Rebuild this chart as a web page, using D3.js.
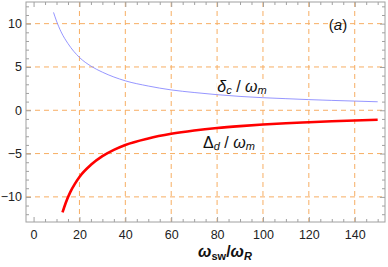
<!DOCTYPE html>
<html>
<head>
<meta charset="utf-8">
<script src="https://cdn.jsdelivr.net/npm/d3@7"></script>
<style>
  body { margin: 0; background: #fff; }
  text { font-family: "Liberation Sans", Arial, sans-serif; }
</style>
</head>
<body>
<div id="chart"></div>
<script>
// values
var deltaC = [
  [8.7, 11.3], [10, 10.3], [12, 9.05], [15, 7.7], [20, 6.1], [25, 5.1], [30, 4.4],
  [40, 3.4], [50, 2.8], [60, 2.35], [70, 2.05], [80, 1.8], [90, 1.6], [100, 1.45],
  [110, 1.34], [120, 1.23], [130, 1.14], [140, 1.06], [150, 0.98]
];
var deltaD = [
  [12.6, -11.8], [14, -10.7], [16, -9.45], [18, -8.5], [20, -7.7], [25, -6.3], [30, -5.3],
  [35, -4.57], [40, -4.0], [50, -3.25], [60, -2.72], [70, -2.34], [80, -2.05], [90, -1.83],
  [100, -1.65], [110, -1.5], [120, -1.38], [130, -1.27], [140, -1.18], [150, -1.1]
];
var xTicks = [0, 20, 40, 60, 80, 100, 120, 140];
var yTicks = [-10, -5, 0, 5, 10];

var W = 388, H = 267;
var plot = { left: 26, top: 2, right: 385, bottom: 222 };

var svg = d3.select("#chart").append("svg")
  .attr("width", W)
  .attr("height", H);

var x = d3.scaleLinear().domain([-3.3, 153.2]).range([plot.left, plot.right]);
var y = d3.scaleLinear().domain([-12.9, 12.5]).range([plot.bottom, plot.top]);

// grid lines
var grid = svg.append("g")
  .attr("stroke", "#f7ae63")
  .attr("stroke-width", 1)
  .attr("stroke-dasharray", "5,4");
grid.selectAll(".gx").data(xTicks.filter(function (d) { return d > 0; }))
  .enter().append("line")
  .attr("x1", function (d) { return x(d); })
  .attr("x2", function (d) { return x(d); })
  .attr("y1", plot.top)
  .attr("y2", plot.bottom);
grid.selectAll(".gy").data(yTicks)
  .enter().append("line")
  .attr("x1", plot.left)
  .attr("x2", plot.right)
  .attr("y1", function (d) { return y(d); })
  .attr("y2", function (d) { return y(d); });

// curves
var line = d3.line()
  .x(function (d) { return x(d[0]); })
  .y(function (d) { return y(d[1]); })
  .curve(d3.curveMonotoneX);

svg.append("path")
  .datum(deltaC)
  .attr("d", line)
  .attr("fill", "none")
  .attr("stroke", "#8a8aff")
  .attr("stroke-width", 0.9);

svg.append("path")
  .datum(deltaD)
  .attr("d", line)
  .attr("fill", "none")
  .attr("stroke", "#ff0000")
  .attr("stroke-width", 2.6);

// frame with ticks on all sides
var frameColor = "#a0a0a0";
svg.append("rect")
  .attr("x", plot.left)
  .attr("y", plot.top)
  .attr("width", plot.right - plot.left)
  .attr("height", plot.bottom - plot.top)
  .attr("fill", "none")
  .attr("stroke", frameColor)
  .attr("stroke-width", 1);

var axisB = d3.axisBottom(x).tickValues(xTicks).tickSize(-5).tickPadding(8);
var axisT = d3.axisTop(x).tickValues(xTicks).tickSize(-5).tickFormat("");
var axisL = d3.axisLeft(y).tickValues(yTicks).tickSize(-5).tickPadding(4)
  .tickFormat(function (d) { return d < 0 ? "\u2212" + (-d) : d; });
var axisR = d3.axisRight(y).tickValues(yTicks).tickSize(-5).tickFormat("");

var minorX = d3.range(0, 155, 5).filter(function (d) { return d % 20 != 0; });
var minorY = d3.range(-12, 13, 1).filter(function (d) { return d % 5 != 0; });

function styleAxis(g) {
  g.select(".domain").remove();
  g.selectAll(".tick line").attr("stroke", frameColor);
  g.selectAll(".tick text").attr("fill", "#222").style("font-size", "12.5px");
}

svg.append("g").attr("transform", "translate(0," + plot.bottom + ")").call(axisB).call(styleAxis);
svg.append("g").attr("transform", "translate(0," + plot.top + ")").call(axisT).call(styleAxis);
svg.append("g").attr("transform", "translate(" + plot.left + ",0)").call(axisL).call(styleAxis);
svg.append("g").attr("transform", "translate(" + plot.right + ",0)").call(axisR).call(styleAxis);

svg.append("g").attr("transform", "translate(0," + plot.bottom + ")")
  .call(d3.axisBottom(x).tickValues(minorX).tickSize(-3).tickFormat("")).call(styleAxis);
svg.append("g").attr("transform", "translate(0," + plot.top + ")")
  .call(d3.axisTop(x).tickValues(minorX).tickSize(-3).tickFormat("")).call(styleAxis);
svg.append("g").attr("transform", "translate(" + plot.left + ",0)")
  .call(d3.axisLeft(y).tickValues(minorY).tickSize(-3).tickFormat("")).call(styleAxis);
svg.append("g").attr("transform", "translate(" + plot.right + ",0)")
  .call(d3.axisRight(y).tickValues(minorY).tickSize(-3).tickFormat("")).call(styleAxis);

// curve labels with white background
function label(cx, cy, main, sub, mainItalic) {
  var g = svg.append("g");
  var t = g.append("text")
    .attr("x", cx)
    .attr("y", cy)
    .attr("text-anchor", "middle")
    .attr("dominant-baseline", "central")
    .style("font-size", "16px")
    .attr("fill", "#111");
  t.append("tspan").style("font-style", mainItalic ? "italic" : "normal").text(main);
  t.append("tspan").style("font-style", "italic").style("font-size", "11px").attr("dy", 4).text(sub);
  t.append("tspan").attr("dy", -4).text(" / ");
  t.append("tspan").style("font-style", "italic").text("\u03c9");
  t.append("tspan").style("font-style", "italic").style("font-size", "11px").attr("dy", 4).text("m");
  var bb = t.node().getBBox();
  g.insert("rect", "text")
    .attr("x", bb.x - 1)
    .attr("y", bb.y + 2)
    .attr("width", bb.width + 2)
    .attr("height", bb.height - 4)
    .attr("fill", "#fff");
}
label(242, 86, "\u03b4", "c", true);
label(229, 142, "\u0394", "d", false);

svg.append("text")
  .attr("x", 338)
  .attr("y", 24)
  .attr("text-anchor", "middle")
  .attr("dominant-baseline", "central")
  .style("font-size", "15px")
  .attr("fill", "#111")
  .html('(<tspan font-style="italic">a</tspan>)');

// x axis title
var xt = svg.append("text")
  .attr("x", 225)
  .attr("y", 257)
  .attr("text-anchor", "middle")
  .style("font-size", "16px")
  .style("font-weight", "bold")
  .attr("fill", "#111");
xt.append("tspan").style("font-style", "italic").text("\u03c9");
xt.append("tspan").style("font-size", "11px").attr("dy", 3).text("sw");
xt.append("tspan").attr("dy", -3).text("/");
xt.append("tspan").style("font-style", "italic").text("\u03c9");
xt.append("tspan").style("font-style", "italic").style("font-size", "11px").attr("dy", 3).text("R");
</script>
</body>
</html>
